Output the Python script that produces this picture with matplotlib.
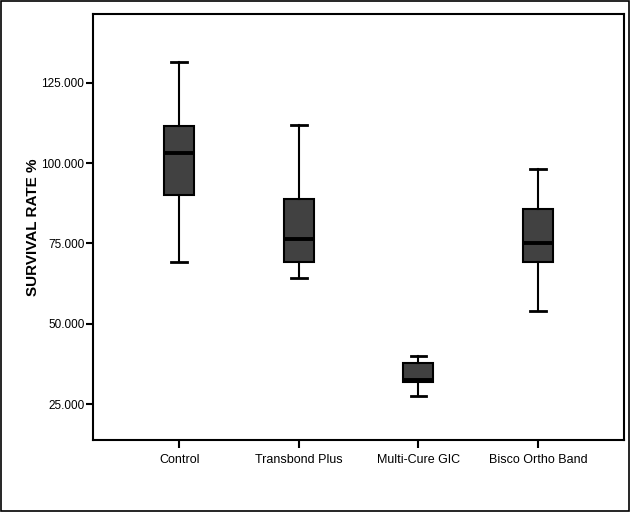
import matplotlib
matplotlib.use("Agg")
import matplotlib.pyplot as plt
from matplotlib.patches import Rectangle

plt.rcParams['font.family'] = ['Liberation Sans', 'DejaVu Sans']

groups = ["Control", "Transbond Plus", "Multi-Cure GIC", "Bisco Ortho Band"]
whis_lo = [69.3, 64.3, 27.5, 53.9]
q1 = [90.2, 69.1, 31.8, 69.1]
medians = [103.2, 76.4, 32.6, 75.2]
q3 = [111.5, 88.8, 37.7, 85.7]
whis_hi = [131.4, 111.7, 40.1, 98.2]

stats = []
for g, lo, a, m, b, hi in zip(groups, whis_lo, q1, medians, q3, whis_hi):
    stats.append(dict(label=g, whislo=lo, q1=a, med=m, q3=b, whishi=hi, fliers=[]))

fig = plt.figure(figsize=(6.38, 5.12), dpi=100)
ax = fig.add_axes([0.1453, 0.1406, 0.8328, 0.8326])

ax.bxp(stats, positions=range(1, 5), widths=0.25, patch_artist=True,
       showfliers=False,
       boxprops=dict(facecolor='#414141', edgecolor='black', linewidth=1.5),
       medianprops=dict(color='black', linewidth=2.8),
       whiskerprops=dict(color='black', linewidth=1.5),
       capprops=dict(color='black', linewidth=2.0),
       capwidths=0.13)

ax.set_xlim(0.276, 4.72)
ax.set_ylim(13.9, 146.4)
ax.set_yticks([25, 50, 75, 100, 125])
ax.set_yticklabels([f"{v:.3f}" for v in [25, 50, 75, 100, 125]], fontsize=8.5)
ax.set_xticks(range(1, 5))
ax.set_xticklabels(groups, fontsize=9)
ax.tick_params(axis='y', length=5, width=1.5, pad=1)
ax.tick_params(axis='x', length=6, width=1.5, pad=4)
for s in ax.spines.values():
    s.set_linewidth(1.5)
ax.set_ylabel("SURVIVAL RATE %", fontsize=11, fontweight='bold', labelpad=1)

# outer frame around the whole chart
fig.patches.append(Rectangle((0.002, 0.002), 0.984, 0.996, transform=fig.transFigure,
                             fill=False, edgecolor='black', linewidth=1.2))

fig.savefig("out.png", dpi=100)
